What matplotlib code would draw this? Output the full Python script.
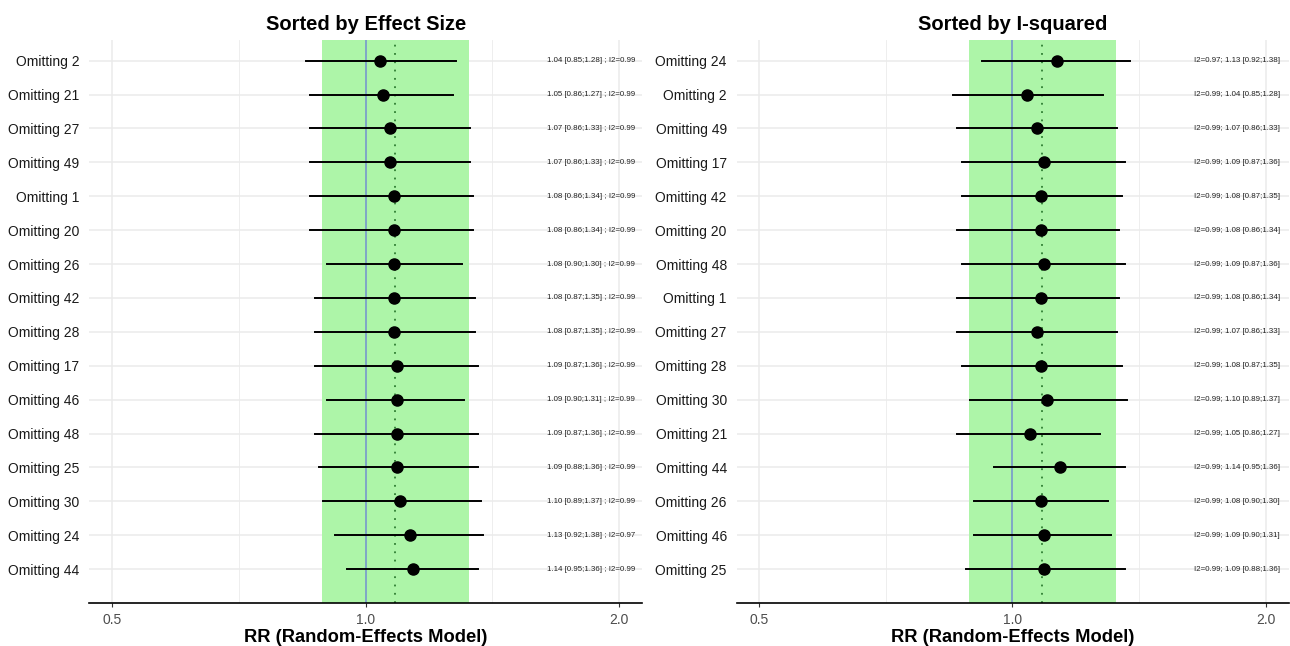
"""Leave-one-out sensitivity plot: two forest panels (effect size / I-squared order)."""

import matplotlib
matplotlib.use('Agg')
import matplotlib.pyplot as plt
import numpy as np

plt.rcParams['font.family'] = ['Liberation Sans', 'DejaVu Sans']

study = [2, 21, 27, 49, 1, 20, 26, 42, 28, 17, 46, 48, 25, 30, 24, 44]
rr = [1.04, 1.05, 1.07, 1.07, 1.08, 1.08, 1.08, 1.08, 1.08, 1.09, 1.09, 1.09, 1.09, 1.10, 1.13, 1.14]
lo = [0.85, 0.86, 0.86, 0.86, 0.86, 0.86, 0.90, 0.87, 0.87, 0.87, 0.90, 0.87, 0.88, 0.89, 0.92, 0.95]
hi = [1.28, 1.27, 1.33, 1.33, 1.34, 1.34, 1.30, 1.35, 1.35, 1.36, 1.31, 1.36, 1.36, 1.37, 1.38, 1.36]
i2 = [0.99, 0.99, 0.99, 0.99, 0.99, 0.99, 0.99, 0.99, 0.99, 0.99, 0.99, 0.99, 0.99, 0.99, 0.97, 0.99]

# row order, top to bottom
order_effect = [2, 21, 27, 49, 1, 20, 26, 42, 28, 17, 46, 48, 25, 30, 24, 44]
order_i2 = [24, 2, 49, 17, 42, 20, 48, 1, 27, 28, 30, 21, 44, 26, 46, 25]

# pooled estimate and CI (green band)
pooled_rr = 1.085
pooled_lo = 0.888
pooled_hi = 1.327

C_BAND = '#adf5a8'
C_NULL = '#7c9fca'
C_POOL = '#2e7d32'
C_GRID = '#ebebeb'

fig = plt.figure(figsize=(12.9, 6.46), dpi=100)
ax1 = fig.add_axes([0.069, 0.0666, 0.429, 0.872])
ax2 = fig.add_axes([0.571, 0.0666, 0.428, 0.872])


def panel(ax, order, title, label_fmt):
    n = len(order)
    idx = [study.index(s) for s in order]
    ys = np.arange(n, 0, -1)
    ax.set_xscale('log')
    ax.set_xlim(0.47, 2.13)
    ax.set_ylim(0.0, n + 0.62)

    # grid
    for g in [0.5, 1.0, 2.0]:
        ax.axvline(g, color=C_GRID, lw=1.1, zorder=0)
    for g in [np.sqrt(0.5), np.sqrt(2.0)]:
        ax.axvline(g, color=C_GRID, lw=0.6, zorder=0)
    for y in ys:
        ax.axhline(y, color=C_GRID, lw=1.1, zorder=0)

    ax.axvspan(pooled_lo, pooled_hi, color=C_BAND, lw=0, zorder=1)
    ax.axvline(1.0, color=C_NULL, lw=1.3, zorder=2)
    ax.axvline(pooled_rr, color=C_POOL, lw=1.3, ls=(0, (1, 3.6)), zorder=2)

    for y, i in zip(ys, idx):
        ax.plot([lo[i], hi[i]], [y, y], color='black', lw=1.4, zorder=3)
        ax.plot(rr[i], y, 'o', color='black', ms=8, zorder=4)
        ax.text(1.85, y, label_fmt(i), ha='center', va='center',
                fontsize=5.7, color='#222222', zorder=5)

    ax.set_yticks(ys)
    ax.set_yticklabels(['Omitting %d' % s for s in order], fontsize=10, color='#1a1a1a')
    ax.set_xticks([0.5, 1.0, 2.0])
    ax.set_xticklabels(['0.5', '1.0', '2.0'], fontsize=10, color='#4d4d4d')
    ax.xaxis.set_minor_locator(matplotlib.ticker.NullLocator())
    ax.tick_params(axis='y', length=0, pad=7)
    ax.tick_params(axis='x', length=3, width=0.8, color='#333333', pad=4)
    for side in ['top', 'right', 'left']:
        ax.spines[side].set_visible(False)
    ax.spines['bottom'].set_linewidth(1.2)
    ax.set_title(title, fontsize=14.5, fontweight='bold', pad=7)
    ax.set_xlabel('RR (Random-Effects Model)', fontsize=13.2, fontweight='bold', labelpad=2)


panel(ax1, order_effect, 'Sorted by Effect Size',
      lambda i: '%.2f [%.2f;%.2f] ; I2=%.2f' % (rr[i], lo[i], hi[i], i2[i]))
panel(ax2, order_i2, 'Sorted by I-squared',
      lambda i: 'I2=%.2f; %.2f [%.2f;%.2f]' % (i2[i], rr[i], lo[i], hi[i]))

fig.savefig('out.png', dpi=100, facecolor='white')
